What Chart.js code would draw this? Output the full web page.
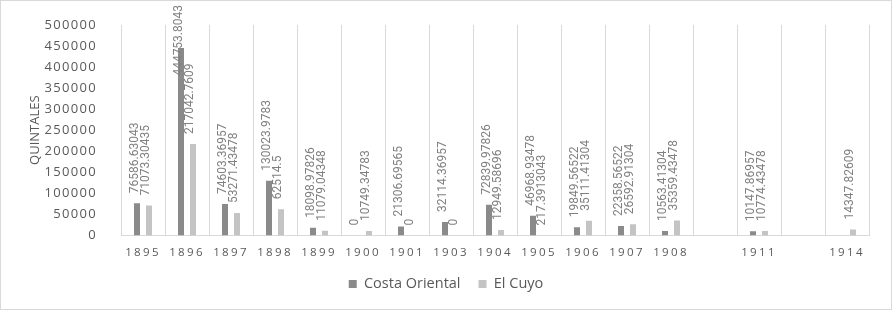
<!DOCTYPE html>
<html>
<head>
<meta charset="utf-8">
<script src="https://cdn.jsdelivr.net/npm/chart.js@4.4.1/dist/chart.umd.min.js"></script>
<style>
  body { margin: 0; background: #fff; }
  #wrap { width: 890px; height: 308px; border: 1px solid #d9d9d9; position: relative; }
</style>
</head>
<body>
<div id="wrap"><canvas id="chart"></canvas></div>
<script>
// Years (blank slots are empty columns in the original sheet)
const years = ['1895', '1896', '1897', '1898', '1899', '1900', '1901', '1903', '1904',
    '1905', '1906', '1907', '1908', '', '1911', '', '1914'];
const costaOriental = [76586.63043, 444753.8043, 74603.36957, 130023.9783, 18098.97826, 0,
    21306.69565, 32114.36957, 72839.97826, 46968.93478, 19849.56522, 22358.56522,
    10563.41304, null, 10147.86957, null, null];
const elCuyo = [71073.30435, 217042.7609, 53271.43478, 62514.5, 11079.04348, 10749.34783,
    0, 0, 12949.58696, 217.3913043, 35111.41304, 26592.91304, 35359.43478, null,
    10774.43478, null, 14347.82609];
const yTicks = [0, 50000, 100000, 150000, 200000, 250000, 300000, 350000, 400000, 450000, 500000];

const textGrey = '#595959';
const labelGrey = '#808080';
const gridGrey = '#d9d9d9';

// vertical value labels above each bar, like Excel's outside-end labels
const barLabels = {
    id: 'barLabels',
    afterDatasetsDraw(chart) {
        const ctx = chart.ctx;
        const shift = [-2, -3];
        chart.data.datasets.forEach((ds, i) => {
            const meta = chart.getDatasetMeta(i);
            meta.data.forEach((bar, j) => {
                const v = ds.data[j];
                if (v === null || v === undefined) return;
                const text = String(v);
                ctx.save();
                ctx.font = '12px Roboto';
                ctx.fillStyle = labelGrey;
                const w = ctx.measureText(text).width;
                let start = bar.y - 10;
                if (start - w < 4) start = 4 + w;
                ctx.translate(bar.x + shift[i], start);
                ctx.rotate(-Math.PI / 2);
                ctx.textAlign = 'left';
                ctx.textBaseline = 'middle';
                ctx.fillText(text, 0, 0);
                ctx.restore();
            });
        });
    }
};

// category separators between the year columns
const columnLines = {
    id: 'columnLines',
    beforeDatasetsDraw(chart) {
        const x = chart.scales.x;
        const area = chart.chartArea;
        const ctx = chart.ctx;
        const n = chart.data.labels.length;
        const half = (x.getPixelForValue(1) - x.getPixelForValue(0)) / 2;
        ctx.save();
        ctx.strokeStyle = gridGrey;
        ctx.lineWidth = 1;
        ctx.beginPath();
        for (let i = 0; i <= n; i++) {
            const px = Math.round(x.getPixelForValue(i) - half) + 0.5;
            ctx.moveTo(px, area.top);
            ctx.lineTo(px, area.bottom);
        }
        ctx.stroke();
        ctx.restore();
    }
};

// spaced-out axis digits
const spacedTicks = {
    id: 'spacedTicks',
    beforeDraw(chart) {
        [['x', '2.3px'], ['y', '1.3px']].forEach(([id, sp]) => {
            const s = chart.scales[id];
            if (!s || s._spaced) return;
            const orig = s.drawLabels;
            s.drawLabels = function (area) {
                this.ctx.save();
                this.ctx.letterSpacing = sp;
                orig.call(this, area);
                this.ctx.restore();
            };
            s._spaced = true;
        });
    }
};

new Chart(document.getElementById('chart'), {
    type: 'bar',
    data: {
        labels: years,
        datasets: [
            {
                label: 'Costa Oriental',
                data: costaOriental,
                backgroundColor: '#8a8a8a',
                categoryPercentage: 0.545,
                barPercentage: 0.5
            },
            {
                label: 'El Cuyo',
                data: elCuyo,
                backgroundColor: '#c4c4c4',
                categoryPercentage: 0.545,
                barPercentage: 0.5
            }
        ]
    },
    options: {
        responsive: true,
        maintainAspectRatio: false,
        animation: false,
        layout: { padding: { top: 14.2, right: 0, bottom: 7.75, left: 0 } },
        plugins: {
            legend: {
                position: 'bottom',
                labels: {
                    boxWidth: 8,
                    boxHeight: 8,
                    padding: 18,
                    color: textGrey,
                    font: { family: 'Open Sans', size: 14.5 }
                }
            },
            tooltip: { enabled: false }
        },
        scales: {
            x: {
                grid: { display: false, drawTicks: false },
                border: { color: gridGrey },
                ticks: {
                    color: textGrey,
                    padding: 10,
                    maxRotation: 0,
                    autoSkip: false,
                    font: { family: 'Open Sans', size: 11.5 }
                },
                afterFit: s => { s.height = 23.25; }
            },
            y: {
                min: 0,
                max: 500000,
                grid: { display: false },
                border: { display: false },
                afterBuildTicks: s => { s.ticks = yTicks.map(v => ({ value: v })); },
                ticks: {
                    color: textGrey,
                    padding: 16,
                    font: { family: 'Open Sans', size: 13 },
                    callback: v => String(v)
                },
                title: {
                    display: true,
                    text: 'QUINTALES',
                    color: textGrey,
                    padding: { top: 26, bottom: 0 },
                    font: { family: 'Open Sans', size: 13 }
                },
                afterFit: s => { s.width = 120; }
            },
            // empty strip on the right so the plot stops short of the frame
            side: {
                type: 'linear',
                position: 'right',
                grid: { display: false },
                border: { display: false },
                ticks: { display: false },
                afterFit: s => { s.width = 22; }
            }
        }
    },
    plugins: [columnLines, barLabels, spacedTicks]
});
</script>
</body>
</html>
